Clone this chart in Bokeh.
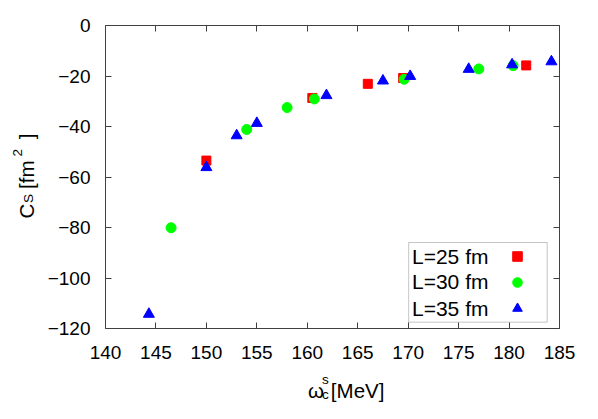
import math
from bokeh.plotting import figure
from bokeh.layouts import row, column
from bokeh.models import (Range1d, FixedTicker, LinearAxis, Label, BoxAnnotation,
                          Legend, LegendItem)
from bokeh.core.properties import value
from bokeh.embed import file_html
from bokeh.resources import INLINE

# ---- data ----
l25_x = [150.0, 160.5, 166.0, 169.5, 181.7]
l25_y = [-53.5, -28.7, -23.1, -20.8, -15.8]

l30_x = [146.5, 154.0, 158.0, 160.7, 169.6, 177.0, 180.4]
l30_y = [-80.1, -41.2, -32.5, -29.1, -21.3, -17.2, -15.9]

l35_x = [144.3, 150.0, 153.0, 155.0, 161.9, 167.5, 170.2, 176.0, 180.3, 184.2]
l35_y = [-114.3, -56.2, -43.6, -38.7, -27.7, -21.9, -20.1, -17.3, -15.5, -14.3]

series_labels = ["L=25 fm", "L=30 fm", "L=35 fm"]
x_ticks = [140, 145, 150, 155, 160, 165, 170, 175, 180, 185]
y_ticks = [-120, -100, -80, -60, -40, -20, 0]

FONT = "Liberation Sans"
FRAME = "#404040"

YLAB_W = 40
PLOT_H = 370

p = figure(width=598 - YLAB_W, height=PLOT_H, output_backend="svg", toolbar_location=None,
           x_range=Range1d(140, 185), y_range=Range1d(-120, 0),
           min_border_left=105 - YLAB_W, min_border_right=39, min_border_top=25,
           min_border_bottom=PLOT_H - 328)
p.grid.visible = False
p.outline_line_color = FRAME
p.outline_line_width = 1
p.background_fill_color = "white"
p.border_fill_color = "white"

for ax, ticks in ((p.xaxis[0], x_ticks), (p.yaxis[0], y_ticks)):
    ax.ticker = FixedTicker(ticks=ticks)
    ax.axis_line_color = None
    ax.major_tick_in = 6
    ax.major_tick_out = 0
    ax.major_tick_line_color = FRAME
    ax.minor_tick_line_color = None
    ax.major_label_text_font = FONT
    ax.major_label_text_font_size = "19px"
    ax.major_label_text_color = "black"
p.xaxis[0].major_label_standoff = 17
p.yaxis[0].major_label_standoff = 15

# mirrored ticks on top and right (no labels)
top = LinearAxis(ticker=FixedTicker(ticks=x_ticks))
right = LinearAxis(ticker=FixedTicker(ticks=y_ticks))
for ax in (top, right):
    ax.axis_line_color = None
    ax.major_tick_in = 6
    ax.major_tick_out = 0
    ax.major_tick_line_color = FRAME
    ax.minor_tick_line_color = None
    ax.major_label_text_font_size = "1px"
    ax.major_label_text_color = None
    ax.major_label_standoff = 0
p.add_layout(top, "above")
p.add_layout(right, "right")

r25 = p.scatter(l25_x, l25_y, marker="square", size=9, fill_color="#ff0000",
                line_color="#ff0000")
r30 = p.scatter(l30_x, l30_y, marker="circle", size=10, fill_color="#00ff00",
                line_color="#00ff00")
r35 = p.scatter(l35_x, l35_y, marker="triangle", size=11, fill_color="#0000ff",
                line_color="#0000ff")

# legend: frame, texts on the left, glyphs on the right
p.add_layout(BoxAnnotation(left=170.05, right=183.78, top=-85.94, bottom=-117.5,
                           fill_alpha=0, line_color=FRAME, line_width=1,
                           level="overlay"))
for lab_text, yy in zip(series_labels, [-91.6, -101.5, -112.1]):
    p.add_layout(Label(x=170.38, y=yy, text=lab_text, text_font=FONT,
                       text_font_size="21px", text_baseline="middle",
                       text_align="left", text_color="black"))
leg = Legend(items=[LegendItem(label=value(" "), renderers=[r]) for r in (r25, r30, r35)],
             location=(400, 7), background_fill_alpha=0, border_line_color=None,
             padding=0, margin=0, spacing=0, glyph_width=24, glyph_height=26,
             label_height=26, label_standoff=0, label_text_font_size="6px",
             label_text_color=None)
p.add_layout(leg, "center")


# small label panels whose data units are pixels (y grows downward)
def label_panel(w, h):
    f = figure(width=w, height=h, output_backend="svg", toolbar_location=None,
               x_range=Range1d(0, w), y_range=Range1d(h, 0),
               min_border=0, x_axis_type=None, y_axis_type=None)
    f.grid.visible = False
    f.outline_line_color = None
    f.background_fill_color = "white"
    f.border_fill_color = "white"
    return f


def lab(f, x, y, text, size, angle=0.0, align="left"):
    f.add_layout(Label(x=x, y=y, text=text, angle=angle, text_font=FONT,
                       text_font_size=size, text_baseline="alphabetic",
                       text_align=align, text_color="black"))


MAIN = "20.5px"
SUB = "13.5px"

# y axis label: C_S [fm^2]
ypan = label_panel(YLAB_W, 419)
A = math.pi / 2
lab(ypan, 26, 218, "C", MAIN, A)
lab(ypan, 28, 202.5, "S", SUB, A)
lab(ypan, 26, 188.5, "[fm", MAIN, A)
lab(ypan, 17, 156, "2", SUB, A)
lab(ypan, 26, 133, "]", MAIN, A, "right")

# x axis label: omega_c^s [MeV]
xpan = label_panel(598 - YLAB_W, 419 - PLOT_H)
ox, oy = YLAB_W, PLOT_H
lab(xpan, 289 - ox, 390 - oy, "ω", MAIN)
lab(xpan, 306 - ox, 378.7 - oy, "s", SUB)
lab(xpan, 306 - ox, 394 - oy, "c", SUB)
lab(xpan, 317 - ox, 390 - oy, "[MeV]", MAIN)

layout = row(ypan, column(p, xpan))
open("out.html", "w").write(file_html(layout, INLINE))
